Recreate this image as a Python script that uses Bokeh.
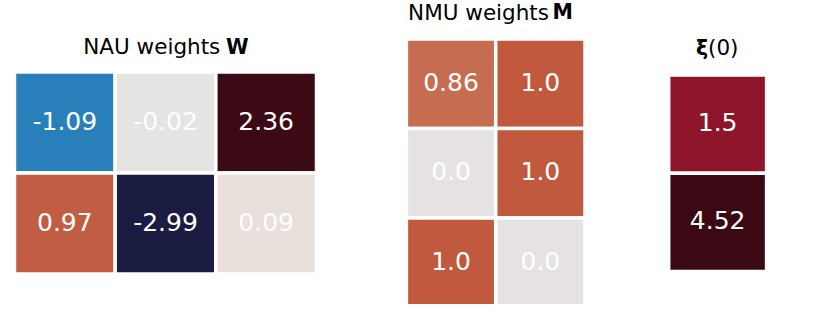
import numpy as np
from bokeh.plotting import figure
from bokeh.models import Range1d, LinearColorMapper, ColumnDataSource
from bokeh.layouts import row
from bokeh.core.properties import value
from bokeh.embed import file_html
from bokeh.resources import INLINE

# ---------------- data ----------------
nau_weights = [[-1.09, -0.02, 2.36],
               [0.97, -2.99, 0.09]]
nmu_weights = [[0.86, 1.0],
               [0.0, 1.0],
               [1.0, 0.0]]
xi_values = [[1.5],
             [4.52]]

nau_title = ("NAU weights", "W")    # normal part, bold part
nmu_title = ("NMU weights", "M")
xi_title = ("ξ", "(0)")             # bold part, normal part

# ---------------- colour scale (style) ----------------
cmap_low, cmap_high = -3.0, 3.0
cmap_stops = [(-3.0, "#1a1b41"), (-1.09, "#297fb9"), (-0.02, "#e6e3e3"),
              (0.09, "#e9dfdb"), (0.86, "#c56c51"), (1.0, "#c0593d"),
              (1.5, "#8e1429"), (2.36, "#3c0a15"), (3.0, "#3a0913")]


def build_palette(stops, lo, hi, n=601):
    pos = np.array([s[0] for s in stops])
    rgb = np.array([[int(c[i:i + 2], 16) for i in (1, 3, 5)] for _, c in stops], float)
    xs = lo + (np.arange(n) + 0.5) * (hi - lo) / n
    out = []
    for x in xs:
        r, g, b = (int(round(np.interp(x, pos, rgb[:, k]))) for k in range(3))
        out.append("#%02x%02x%02x" % (r, g, b))
    return out


mapper = LinearColorMapper(palette=build_palette(cmap_stops, cmap_low, cmap_high),
                           low=cmap_low, high=cmap_high)

FONT = value("DejaVu Sans")
PAGE_TOP, PAGE_BOTTOM = 0, 304
CELL_FONT = "25px"
TITLE_FONT = "21.5px"
TITLE_BOLD_FONT = "20.5px"


def panel(vals, fx0, fx1, grid, title, title_mid, split, second_x, bold_first):
    gx0, gy0, gx1, gy1 = grid
    nrows, ncols = len(vals), len(vals[0])
    cw = (gx1 - gx0) / ncols
    ch = (gy1 - gy0) / nrows

    def xv(X):
        return -0.5 + (X - gx0) / cw

    def yv(Y):
        return -0.5 + (Y - gy0) / ch

    p = figure(width=fx1 - fx0, height=PAGE_BOTTOM - PAGE_TOP,
               x_range=Range1d(xv(fx0), xv(fx1)),
               y_range=Range1d(yv(PAGE_BOTTOM), yv(PAGE_TOP)),
               output_backend="svg", toolbar_location=None,
               x_axis_location=None, y_axis_location=None,
               min_border=0, outline_line_color=None,
               background_fill_color="white", border_fill_color="white")
    p.grid.visible = False

    xs, ys, vs, labels = [], [], [], []
    for r, rowvals in enumerate(vals):
        for c, v in enumerate(rowvals):
            xs.append(c)
            ys.append(r)
            vs.append(v)
            labels.append(str(v))
    src = ColumnDataSource(dict(x=xs, y=ys, v=vs, label=labels))
    p.rect(x="x", y="y", width=1, height=1, source=src,
           fill_color={"field": "v", "transform": mapper},
           line_color="white", line_width=3.5)
    p.text(x="x", y="y", text="label", source=src, text_align="center",
           text_baseline="middle", text_color="white", y_offset=-2,
           text_font=FONT, text_font_size=CELL_FONT)

    first, second = title
    ty = yv(title_mid)
    p.text(x=[xv(split)], y=[ty], text=[first], text_align="right",
           text_baseline="middle", text_color="black", text_font=FONT,
           text_font_size=TITLE_BOLD_FONT if bold_first else TITLE_FONT,
           text_font_style="bold" if bold_first else "normal")
    p.text(x=[xv(second_x)], y=[ty], text=[second], text_align="left",
           text_baseline="middle", text_color="black", text_font=FONT,
           text_font_size=TITLE_FONT if bold_first else TITLE_BOLD_FONT,
           text_font_style="normal" if bold_first else "bold")
    return p


p1 = panel(nau_weights, 0, 353, (14.0, 71.6, 316.0, 273.6), nau_title,
           46.3, 219.8, 225.5, False)
p2 = panel(nmu_weights, 353, 632, (405.9, 38.6, 584.5, 306.8), nmu_title,
           11.8, 548.5, 552.0, False)
p3 = panel(xi_values, 632, 814, (668.2, 74.4, 766.1, 271.0), xi_title,
           47.0, 707.5, 707.5, True)

layout = row(p1, p2, p3)
open("out.html", "w").write(file_html(layout, INLINE))
